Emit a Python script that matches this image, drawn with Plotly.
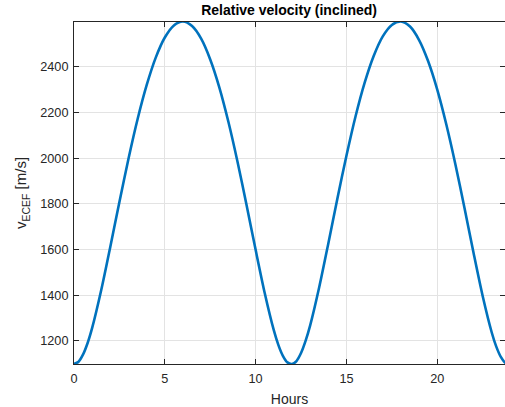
import plotly.graph_objects as go

# Time since epoch [hours]; sampled more finely around the minima
hours = [0.0, 0.25, 0.5, 0.75, 1.0, 1.5, 2.0, 2.5, 3.0, 3.5, 4.0, 4.5, 5.0, 5.5,
         6.0, 6.5, 7.0, 7.5, 8.0, 8.5, 9.0, 9.5, 10.0, 10.5, 11.0, 11.25, 11.5, 11.75,
         12.0, 12.25, 12.5, 12.75, 13.0, 13.5, 14.0, 14.5, 15.0, 15.5, 16.0, 16.5, 17.0, 17.5,
         18.0, 18.5, 19.0, 19.5, 20.0, 20.5, 21.0, 21.5, 22.0, 22.5, 23.0, 23.25, 23.5, 23.75,
         23.93]

# Speed relative to the Earth-fixed frame [m/s]
v_ecef = [1099, 1109, 1141, 1191, 1257, 1423, 1613, 1809, 1998, 2171, 2320, 2441, 2529, 2582,
          2599, 2579, 2524, 2433, 2311, 2160, 1986, 1795, 1599, 1410, 1247, 1183, 1135, 1106,
          1099, 1112, 1147, 1200, 1267, 1435, 1626, 1823, 2011, 2183, 2330, 2448, 2534, 2584,
          2599, 2577, 2518, 2425, 2301, 2148, 1973, 1782, 1585, 1397, 1237, 1175, 1130, 1104,
          1099]

x_ticks = [0, 5, 10, 15, 20]
y_ticks = [1200, 1400, 1600, 1800, 2000, 2200, 2400]

FONT = "Liberation Sans, Arial, Helvetica, sans-serif"
TXT = "#262626"
GRID = "#e3e3e3"

fig = go.Figure(
    go.Scatter(
        x=hours, y=v_ecef, mode="lines",
        line=dict(color="#0072BD", width=2.6, shape="spline", smoothing=0.8),
        showlegend=False,
    )
)

axis_common = dict(
    showline=True, linecolor=TXT, linewidth=1, mirror="ticks",
    ticks="inside", ticklen=5, tickcolor=TXT, tickwidth=1,
    showgrid=True, gridcolor=GRID, gridwidth=1, zeroline=False,
    tickfont=dict(family=FONT, size=12.7, color=TXT),
)

fig.update_xaxes(
    range=[0, 23.73], tickvals=x_ticks,
    title=dict(text="Hours", font=dict(family=FONT, size=14, color=TXT), standoff=9),
    ticklabelstandoff=3,
    **axis_common,
)
fig.update_yaxes(
    range=[1099, 2597], tickvals=y_ticks,
    title=dict(text="v<sub>ECEF</sub> [m/s]", font=dict(family=FONT, size=15, color=TXT), standoff=9),
    ticklabelstandoff=2,
    **axis_common,
)

fig.update_layout(
    width=505, height=407,
    margin=dict(l=74, r=0, t=22, b=43),
    paper_bgcolor="white", plot_bgcolor="white",
    title=dict(text="<b>Relative velocity (inclined)</b>", x=0.5725, xanchor="center",
               y=0.9755, yanchor="middle",
               font=dict(family=FONT, size=14, color="black")),
)

fig.write_html("out.html")
